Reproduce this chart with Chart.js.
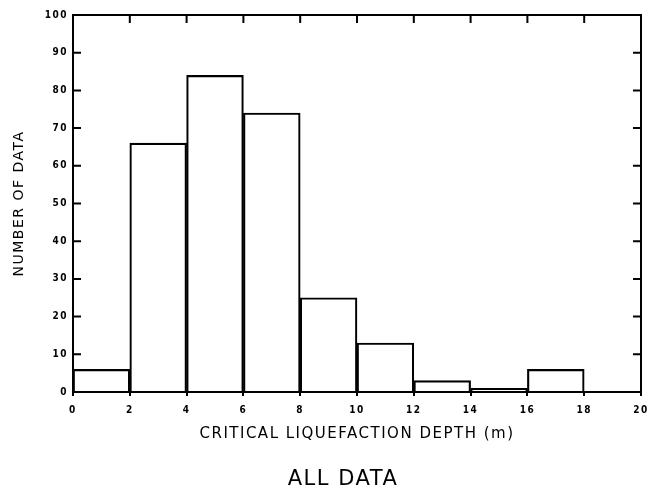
<!DOCTYPE html>
<html lang="en">
<head>
<meta charset="UTF-8">
<title>Critical Liquefaction Depth - All Data</title>
<script src="https://cdn.jsdelivr.net/npm/chart.js"></script>
<style>
  html, body { margin: 0; padding: 0; background: #fff; }
</style>
</head>
<body>
<canvas id="histChart" width="651" height="494"></canvas>

<script>
// histogram bins (m) and number of data in each bin
const binStart = [0, 2, 4, 6, 8, 10, 12, 14, 16, 18];
const binWidth = 2;
const counts = [6, 66, 84, 74, 25, 13, 3, 1, 6, 0];

// axis ranges / tick steps
const xRange = [0, 20], xStep = 2;
const yRange = [0, 100], yStep = 10;

const tickFont = { family: '"DejaVu Sans Condensed", "DejaVu Sans"', size: 10, weight: 'bold' };

// draws the top/right frame, the inward tick marks and the caption
const frameTicks = {
    id: 'frameTicks',
    beforeDraw(chart) {
        // plotter-style lettering is spaced out a bit
        chart.ctx.letterSpacing = '1.5px';
    },
    afterDraw(chart) {
        const { ctx, chartArea: a, scales: { x, y } } = chart;
        ctx.save();
        ctx.strokeStyle = '#000';
        ctx.lineWidth = 2;
        ctx.beginPath();
        ctx.moveTo(a.left, a.top);
        ctx.lineTo(a.right, a.top);
        ctx.lineTo(a.right, a.bottom);
        x.ticks.forEach(t => {
            const px = x.getPixelForValue(t.value);
            ctx.moveTo(px, a.top);
            ctx.lineTo(px, a.top + 8);
        });
        y.ticks.forEach(t => {
            const py = y.getPixelForValue(t.value);
            ctx.moveTo(a.left, py);
            ctx.lineTo(a.left + 8, py);
            ctx.moveTo(a.right, py);
            ctx.lineTo(a.right - 8, py);
        });
        ctx.stroke();

        ctx.fillStyle = '#000';
        ctx.font = '21px "DejaVu Sans"';
        ctx.textAlign = 'center';
        ctx.textBaseline = 'middle';
        ctx.fillText('ALL DATA', (a.left + a.right) / 2 - 14, 480);
        ctx.restore();
    }
};

const ctx = document.getElementById('histChart').getContext('2d');
const chart = new Chart(ctx, {
    type: 'bar',
    data: {
        datasets: [{
            data: binStart.map((s, i) => ({ x: s + binWidth / 2, y: counts[i] })),
            backgroundColor: 'rgba(0,0,0,0)',
            borderColor: '#000',
            borderWidth: 1.5,
            barPercentage: 1,
            categoryPercentage: 1
        }]
    },
    options: {
        responsive: false,
        animation: false,
        layout: { padding: { top: 15, right: 10, bottom: 51, left: 0 } },
        plugins: {
            legend: { display: false },
            tooltip: { enabled: false }
        },
        scales: {
            x: {
                type: 'linear',
                min: xRange[0],
                max: xRange[1],
                offset: false,
                ticks: {
                    stepSize: xStep,
                    padding: 8,
                    color: '#000',
                    font: tickFont
                },
                grid: { offset: false, drawOnChartArea: false, tickLength: 4, color: '#000', lineWidth: 2 },
                border: { color: '#000', width: 2 },
                title: {
                    display: true,
                    text: 'CRITICAL LIQUEFACTION DEPTH (m)',
                    color: '#000',
                    font: { family: 'DejaVu Sans', size: 15 },
                    padding: { top: 0, bottom: 0 }
                },
                afterFit: s => {
                    s.height = 51;
                    s.paddingLeft = 0;
                    s.paddingRight = 0;
                }
            },
            y: {
                min: yRange[0],
                max: yRange[1],
                ticks: {
                    stepSize: yStep,
                    padding: 5,
                    color: '#000',
                    font: tickFont
                },
                grid: { drawOnChartArea: false, drawTicks: false },
                border: { color: '#000', width: 2 },
                title: {
                    display: true,
                    text: 'NUMBER OF DATA',
                    color: '#000',
                    font: { family: 'DejaVu Sans', size: 14 },
                    padding: { top: 11, bottom: 0 }
                },
                afterFit: s => {
                    s.width = 73;
                    s.paddingTop = 0;
                    s.paddingBottom = 0;
                }
            }
        }
    },
    plugins: [frameTicks]
});
</script>
</body>
</html>
